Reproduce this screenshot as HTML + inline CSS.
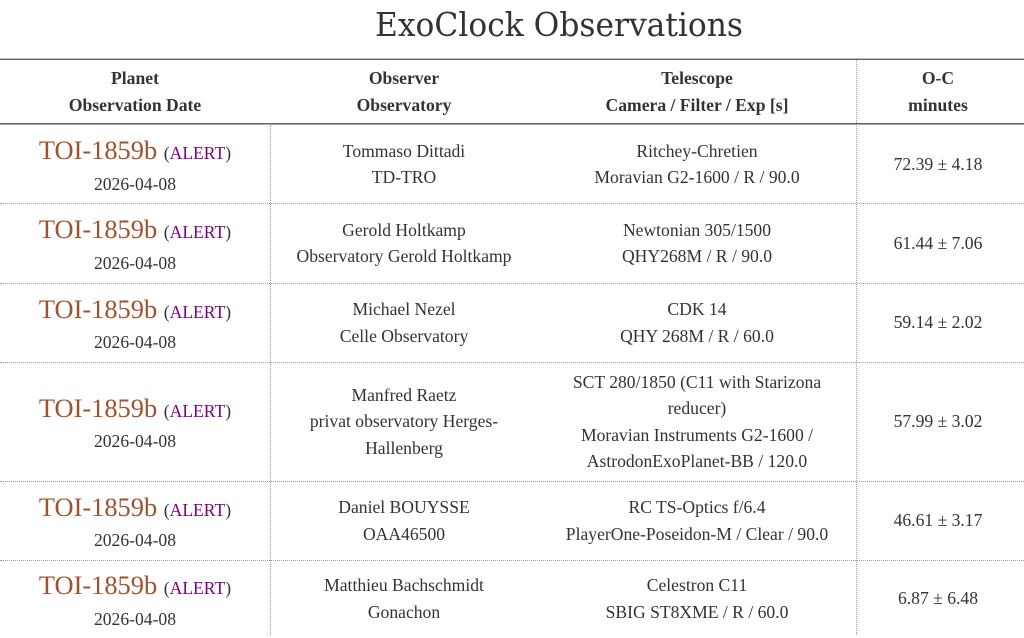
<!DOCTYPE html>
<html>
<head>
<meta charset="utf-8">
<style>
  html, body { margin:0; padding:0; background:#fff; }
  body { width:1024px; height:633px; overflow:hidden; position:relative;
         font-family:"Liberation Serif", serif; color:#333; }
  .c { position:absolute; display:flex; align-items:center; justify-content:center;
       text-align:center; font-size:17.6px; line-height:1.5; }
  .h { font-weight:bold; }
  .toi { font-size:26.4px; line-height:1.5; color:#a0522d; }
  .al { font-size:17.6px; color:#333; }
  .al span { color:#800080; }
  .hl { position:absolute; left:0; width:1024px; height:0; border-top:1px dotted #9a9a9a; }
  .vl { position:absolute; width:0; border-left:1px dotted #9a9a9a; }
</style>
</head>
<body>
<svg style="position:absolute;left:0;top:0" width="1024" height="50">
  <text x="375" y="36" font-family="DejaVu Serif, serif" font-size="33" fill="#333" textLength="368" lengthAdjust="spacingAndGlyphs">ExoClock Observations</text>
</svg>

<!-- lines -->
<div style="position:absolute;left:0;top:58px;width:1024px;height:1px;background:#bbb"></div>
<div style="position:absolute;left:0;top:59px;width:1024px;height:1px;background:#666"></div>
<div style="position:absolute;left:0;top:123px;width:1024px;height:1px;background:#666"></div>
<div style="position:absolute;left:0;top:124px;width:1024px;height:1px;background:#aaa"></div>

<div class="hl" style="top:203px"></div>
<div class="hl" style="top:283px"></div>
<div class="hl" style="top:362px"></div>
<div class="hl" style="top:481px"></div>
<div class="hl" style="top:560px"></div>

<div class="vl" style="left:270px;top:125px;height:510px"></div>
<div class="vl" style="left:856px;top:60px;height:575px"></div>

<!-- header -->
<div class="c h" style="left:0;width:270px;top:59px;height:65px">Planet<br>Observation Date</div>
<div class="c h" style="left:270px;width:268px;top:59px;height:65px">Observer<br>Observatory</div>
<div class="c h" style="left:538px;width:318px;top:59px;height:65px">Telescope<br>Camera / Filter / Exp [s]</div>
<div class="c h" style="left:856px;width:164px;top:59px;height:65px">O-C<br>minutes</div>

<!-- row 1 -->
<div class="c" style="left:0;width:270px;top:124px;height:80px"><div><div class="toi">TOI-1859b <span class="al">(<span>ALERT</span>)</span></div><div>2026-04-08</div></div></div>
<div class="c" style="left:270px;width:268px;top:124px;height:80px">Tommaso Dittadi<br>TD-TRO</div>
<div class="c" style="left:538px;width:318px;top:124px;height:80px">Ritchey-Chretien<br>Moravian G2-1600 / R / 90.0</div>
<div class="c" style="left:856px;width:164px;top:124px;height:80px">72.39 ± 4.18</div>

<!-- row 2 -->
<div class="c" style="left:0;width:270px;top:203px;height:80px"><div><div class="toi">TOI-1859b <span class="al">(<span>ALERT</span>)</span></div><div>2026-04-08</div></div></div>
<div class="c" style="left:270px;width:268px;top:203px;height:80px">Gerold Holtkamp<br>Observatory Gerold Holtkamp</div>
<div class="c" style="left:538px;width:318px;top:203px;height:80px">Newtonian 305/1500<br>QHY268M / R / 90.0</div>
<div class="c" style="left:856px;width:164px;top:203px;height:80px">61.44 ± 7.06</div>

<!-- row 3 -->
<div class="c" style="left:0;width:270px;top:283px;height:79px"><div><div class="toi">TOI-1859b <span class="al">(<span>ALERT</span>)</span></div><div>2026-04-08</div></div></div>
<div class="c" style="left:270px;width:268px;top:283px;height:79px">Michael Nezel<br>Celle Observatory</div>
<div class="c" style="left:538px;width:318px;top:283px;height:79px">CDK 14<br>QHY 268M / R / 60.0</div>
<div class="c" style="left:856px;width:164px;top:283px;height:79px">59.14 ± 2.02</div>

<!-- row 4 -->
<div class="c" style="left:0;width:270px;top:362px;height:119px"><div><div class="toi">TOI-1859b <span class="al">(<span>ALERT</span>)</span></div><div>2026-04-08</div></div></div>
<div class="c" style="left:270px;width:268px;top:362px;height:119px">Manfred Raetz<br>privat observatory Herges-<br>Hallenberg</div>
<div class="c" style="left:538px;width:318px;top:362px;height:119px">SCT 280/1850 (C11 with Starizona<br>reducer)<br>Moravian Instruments G2-1600 /<br>AstrodonExoPlanet-BB / 120.0</div>
<div class="c" style="left:856px;width:164px;top:362px;height:119px">57.99 ± 3.02</div>

<!-- row 5 -->
<div class="c" style="left:0;width:270px;top:481px;height:79px"><div><div class="toi">TOI-1859b <span class="al">(<span>ALERT</span>)</span></div><div>2026-04-08</div></div></div>
<div class="c" style="left:270px;width:268px;top:481px;height:79px">Daniel BOUYSSE<br>OAA46500</div>
<div class="c" style="left:538px;width:318px;top:481px;height:79px">RC TS-Optics f/6.4<br>PlayerOne-Poseidon-M / Clear / 90.0</div>
<div class="c" style="left:856px;width:164px;top:481px;height:79px">46.61 ± 3.17</div>

<!-- row 6 -->
<div class="c" style="left:0;width:270px;top:560px;height:78px"><div><div class="toi">TOI-1859b <span class="al">(<span>ALERT</span>)</span></div><div>2026-04-08</div></div></div>
<div class="c" style="left:270px;width:268px;top:560px;height:77px">Matthieu Bachschmidt<br>Gonachon</div>
<div class="c" style="left:538px;width:318px;top:560px;height:77px">Celestron C11<br>SBIG ST8XME / R / 60.0</div>
<div class="c" style="left:856px;width:164px;top:560px;height:77px">6.87 ± 6.48</div>
</body>
</html>
